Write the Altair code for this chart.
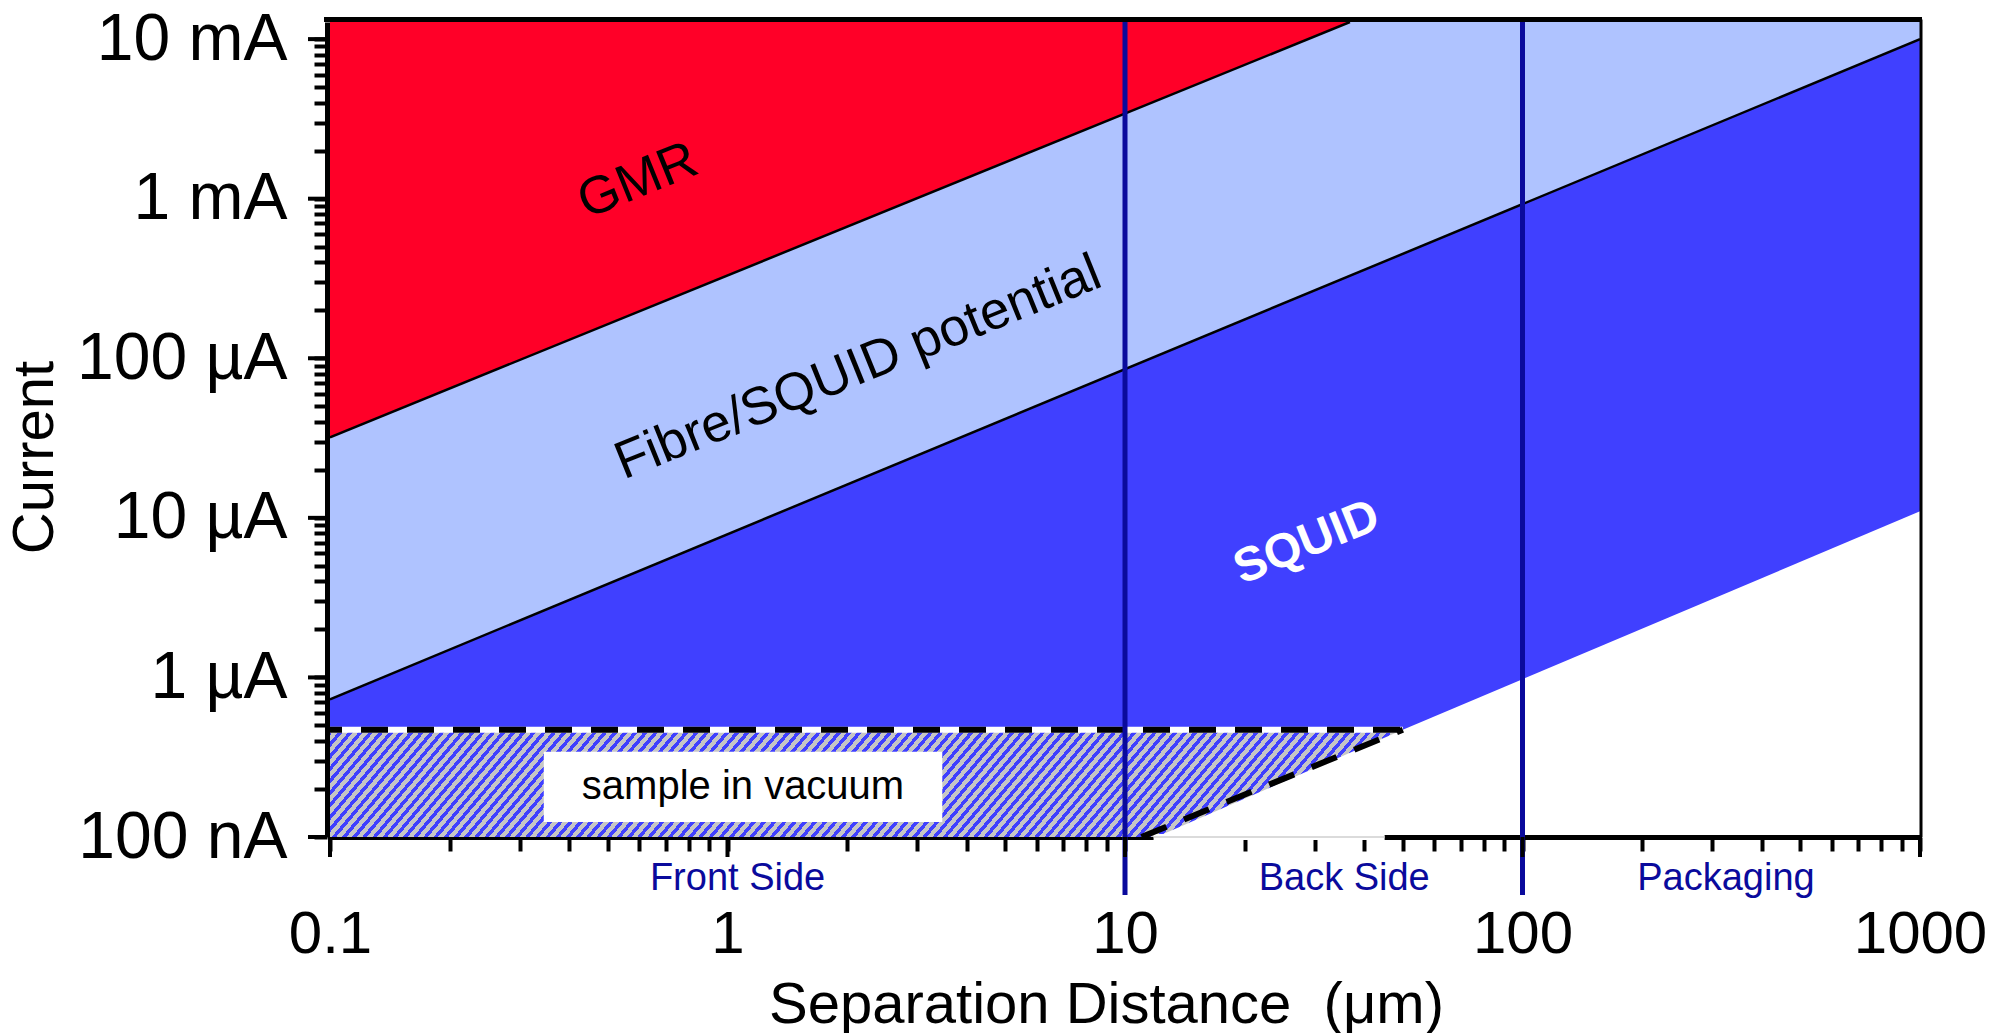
import json
import math
import altair as alt
import pandas as pd

# ---------------- values ----------------
X_DOMAIN = [0.1, 1000]          # separation distance (µm)
Y_DOMAIN = [1e-7, 1.28e-2]      # current (A)

# GMR / Fibre boundary (upper black line)
gmr_x = [0.1, 36.8]
gmr_y = [3.2e-5, 1.28e-2]
# Fibre / SQUID boundary (lower black line)
fibre_x = [0.1, 1000]
fibre_y = [7.3e-7, 1.0e-2]
# lower edge of the SQUID region
squid_x = [0.1, 50, 1000]
squid_y = [4.7e-7, 4.7e-7, 1.1e-5]
# "sample in vacuum" hatched region
vac_x = [0.1, 12.0, 50]
vac_top = [4.7e-7, 4.7e-7, 4.7e-7]
vac_bottom = [1e-7, 1e-7, 4.7e-7]
# dashed outline of the vacuum region
dash_h_x = [0.1, 50]
dash_h_y = [4.7e-7, 4.7e-7]
dash_d_x = [11.0, 50]
dash_d_y = [1e-7, 4.7e-7]
# stretch of the x axis line hidden under the white corner
axis_gap_x = [11.8, 45.0]
# vertical zone limits
limit_x = [10, 100]
zone_labels = ["Front Side", "Back Side", "Packaging"]
zone_x = [1.06, 35.6, 325]
# region annotations
region_text = ["GMR", "Fibre/SQUID potential"]
region_text_x = [0.595, 2.13]
region_text_y = [1.29e-3, 8.7e-5]
squid_text = ["SQUID"]
squid_text_x = [28.7]
squid_text_y = [6.95e-6]
vac_box_x, vac_box_x2 = [0.345], [3.47]
vac_box_y, vac_box_y2 = [1.24e-7], [3.42e-7]
vac_text = ["sample in vacuum"]
vac_text_x = [1.094]
vac_text_y = [2.06e-7]

x_decades = [0.1, 1, 10, 100, 1000]
x_tick_labels = ["0.1", "1", "10", "100", "1000"]
y_decades = [1e-7, 1e-6, 1e-5, 1e-4, 1e-3, 1e-2]
y_tick_labels = ["100 nA", "1 \u00b5A", "10 \u00b5A", "100 \u00b5A", "1 mA", "10 mA"]

# ---------------- styling ----------------
RED = "#ff0028"
LIGHT = "#afc3ff"
DARK = "#4040ff"
NAVY = "#0a0a9c"
GRAY = "#c6c6c6"
FONT = "Liberation Sans"
W, H = 1590, 815
TOP = Y_DOMAIN[1]
Y_OFF = 3

x_ticks = [float(f"{m}e{e}") for e in range(-1, 3) for m in range(1, 10)] + [1000.0]
y_ticks = [float(f"{m}e{e}") for e in range(-7, -2) for m in range(1, 10)] + [1e-2]
LOG = "(log(datum.value)/LN10)"
MAJOR = f"abs({LOG} - round({LOG})) < 0.001"

xs = alt.Scale(type="log", domain=X_DOMAIN, nice=False)
ys = alt.Scale(type="log", domain=Y_DOMAIN, nice=False)

x_axis = alt.Axis(
    values=x_ticks,
    labelExpr=f"{MAJOR} ? {json.dumps(x_tick_labels)}[round({LOG})+1] : ''",
    tickSize=14, tickWidth=4, tickColor="black", domainWidth=5, domainColor="black",
    labelFont=FONT, labelFontSize=60, labelColor="black", labelPadding=101,
    labelBaseline="alphabetic",
    labelFlush=False, labelOverlap=False, labelBound=False, labelLimit=600, grid=False,
    title="Separation Distance\u00a0 (\u03bcm)", titleFont=FONT, titleFontSize=58,
    titleFontWeight="normal", titleColor="black", titleX=776, titleY=185,
    titleBaseline="alphabetic", titleAlign="center",
)
y_axis = alt.Axis(
    values=y_ticks, offset=Y_OFF,
    labelExpr=f"{MAJOR} ? {json.dumps(y_tick_labels)}[round({LOG})+7] : ''",
    tickSize=13, tickWidth=4, tickColor="black", domainWidth=5, domainColor="black",
    labelFont=FONT, labelFontSize=66, labelColor="black", labelPadding=27,
    labelFlush=False, labelOverlap=False, labelBound=False, labelLimit=600, grid=False,
    title="Current", titleFont=FONT, titleFontSize=58, titleFontWeight="normal",
    titleColor="black", titleX=-292, titleY=435, titleBaseline="middle",
    titleAlign="center", titleAngle=270,
)


def X(field="x"):
    return alt.X(f"{field}:Q", scale=xs, axis=x_axis)


def Y(field="y"):
    return alt.Y(f"{field}:Q", scale=ys, axis=y_axis)


# ---- hatch pattern made from a striped linear gradient ----
bw = (math.log10(vac_x[-1]) - math.log10(X_DOMAIN[0])) / 4 * W
bh = (math.log10(vac_top[0]) - math.log10(Y_DOMAIN[0])) / math.log10(Y_DOMAIN[1] / Y_DOMAIN[0]) * H
theta = math.radians(50)
dx, dy = math.tan(theta) * bw / bh, 1.0
k = (dx + dy) / (dx * dx + dy * dy)
dx, dy = dx * k, dy * k
grad_len = math.hypot(dx / bw, dy / bh) / (dx * dx + dy * dy)
period = 7.8 * grad_len
stops = []
t = 0.0
while t < 1.0:
    b_end = min(t + 0.45 * period, 1.0)
    g_end = min(t + period, 1.0)
    stops += [alt.GradientStop(color=DARK, offset=t), alt.GradientStop(color=DARK, offset=b_end),
              alt.GradientStop(color=GRAY, offset=b_end), alt.GradientStop(color=GRAY, offset=g_end)]
    t += period
hatch = alt.LinearGradient(gradient="linear", stops=stops, x1=0, y1=0, x2=dx, y2=dy)


def band(xv, yv):
    return pd.DataFrame({"x": xv, "y": yv, "top": [TOP] * len(xv)})


# ---------------- layers ----------------
dark = alt.Chart(band(squid_x, squid_y)).mark_area(
    color=DARK, clip=True).encode(x=X(), y=Y(), y2="top:Q")
light = alt.Chart(band(fibre_x, fibre_y)).mark_area(
    color=LIGHT, clip=True).encode(x=X(), y=Y(), y2="top:Q")
red = alt.Chart(band(gmr_x, gmr_y)).mark_area(
    color=RED, clip=True).encode(x=X(), y=Y(), y2="top:Q")
vac = alt.Chart(pd.DataFrame({"x": vac_x, "y": vac_top, "y2": vac_bottom})).mark_area(
    fill=hatch, clip=True).encode(x=X(), y=Y(), y2="y2:Q")
box = alt.Chart(pd.DataFrame({"x": vac_box_x, "x2": vac_box_x2, "y": vac_box_y, "y2": vac_box_y2})).mark_rect(
    color="white").encode(x=X(), x2="x2:Q", y=Y(), y2="y2:Q")
gmr_line = alt.Chart(pd.DataFrame({"x": gmr_x, "y": gmr_y})).mark_line(
    color="black", strokeWidth=2.5, clip=True).encode(x=X(), y=Y())
fibre_line = alt.Chart(pd.DataFrame({"x": fibre_x, "y": fibre_y})).mark_line(
    color="black", strokeWidth=2.5, clip=True).encode(x=X(), y=Y())
dash_white = alt.Chart(pd.DataFrame({"x": dash_h_x, "y": dash_h_y})).mark_line(
    color="white", strokeWidth=6).encode(x=X(), y=Y())
dash_h = alt.Chart(pd.DataFrame({"x": dash_h_x, "y": dash_h_y})).mark_line(
    color="black", strokeWidth=6, strokeDash=[27, 19], strokeDashOffset=15).encode(x=X(), y=Y())
gap_df = pd.DataFrame({"x": [axis_gap_x[0]], "x2": [axis_gap_x[1]]})
axis_gap = alt.Chart(gap_df).mark_rule(color="white", strokeWidth=6).encode(
    x=X(), x2="x2:Q", y=alt.value(H))
axis_gap_line = alt.Chart(gap_df).mark_rule(color="#cfcfcf", strokeWidth=1.5).encode(
    x=X(), x2="x2:Q", y=alt.value(H))
dash_d = alt.Chart(pd.DataFrame({"x": dash_d_x, "y": dash_d_y})).mark_line(
    color="black", strokeWidth=6, strokeDash=[27, 19]).encode(x=X(), y=Y())
limits = alt.Chart(pd.DataFrame({"x": limit_x})).mark_rule(
    color=NAVY, strokeWidth=5).encode(x=X(), y=alt.value(-3), y2=alt.value(873))
# longer ticks at the decades
x_major = alt.Chart(pd.DataFrame({"x": x_decades})).mark_rule(
    color="black", strokeWidth=4).encode(x=X(), y=alt.value(H), y2=alt.value(H + 20))
y_major = alt.Chart(pd.DataFrame({"y": y_decades})).mark_rule(
    color="black", strokeWidth=4).encode(y=Y(), x=alt.value(-Y_OFF), x2=alt.value(-Y_OFF - 19))
zones = alt.Chart(pd.DataFrame({"x": zone_x, "t": zone_labels})).mark_text(
    font=FONT, fontSize=38, color=NAVY, baseline="alphabetic", align="center").encode(
    x=X(), y=alt.value(868), text="t:N")
regions = alt.Chart(pd.DataFrame({"x": region_text_x, "y": region_text_y, "t": region_text})).mark_text(
    font=FONT, fontSize=53, color="black", angle=338, baseline="middle", align="center").encode(
    x=X(), y=Y(), text="t:N")
squid = alt.Chart(pd.DataFrame({"x": squid_text_x, "y": squid_text_y, "t": squid_text})).mark_text(
    font=FONT, fontSize=48, fontWeight="bold", color="white", angle=338, baseline="middle",
    align="center").encode(x=X(), y=Y(), text="t:N")
vac_label = alt.Chart(pd.DataFrame({"x": vac_text_x, "y": vac_text_y, "t": vac_text})).mark_text(
    font=FONT, fontSize=40, color="black", baseline="middle", align="center").encode(
    x=X(), y=Y(), text="t:N")
top_border = alt.Chart(pd.DataFrame({"x": [0]})).mark_rule(color="black", strokeWidth=5).encode(
    x=alt.value(-6), x2=alt.value(W + 2), y=alt.value(-2.5))
right_border = alt.Chart(pd.DataFrame({"x": [0]})).mark_rule(color="black", strokeWidth=3).encode(
    x=alt.value(W + 1), y=alt.value(-2.5), y2=alt.value(H))

chart = alt.layer(
    dark, light, red, vac, box, gmr_line, fibre_line, dash_white, dash_h,
    axis_gap, axis_gap_line, dash_d,
    limits, x_major, y_major, zones, regions, squid, vac_label, top_border, right_border,
).properties(
    width=W, height=H,
    autosize=alt.AutoSizeParams(type="none"),
    padding={"left": 330, "top": 22, "right": 2007 - 330 - W, "bottom": 1033 - 22 - H},
    background="white",
).configure_view(strokeWidth=0)

chart.save("out.html", embed_options={"renderer": "svg", "actions": False})
